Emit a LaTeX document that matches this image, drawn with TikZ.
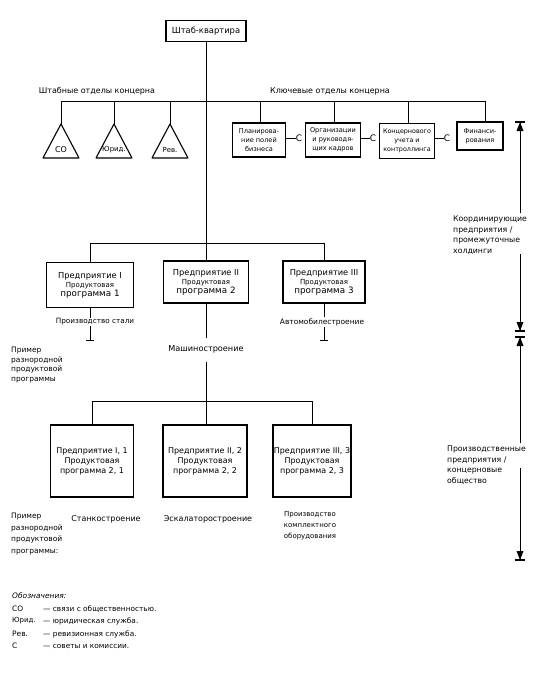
\documentclass[tikz,border=0pt]{standalone}
\usepackage{fontspec}
\setmainfont{DejaVu Sans}
\usetikzlibrary{arrows.meta}
\newcommand{\fs}[2]{\fontsize{#1}{#2}\selectfont}
\tikzset{
  txt/.style={font=\fs{8}{10}, inner sep=0pt, align=center},
  sidetxt/.style={font=\fs{7.5}{10.5}, inner sep=0pt, align=left},
  boxed/.style={draw, line width=1.1bp, inner sep=0pt},
  conn/.style={line width=0.9bp},
  bartip/.style={conn, -{Bar[width=8bp]}},
  tipup/.pic={\fill (0,0) -- (3.5,9) -- (-3.5,9) -- cycle; \draw[line width=1.3bp] (-5,0) -- (5,0);},
  tipdown/.pic={\fill (0,0) -- (3.5,-9) -- (-3.5,-9) -- cycle; \draw[line width=1.3bp] (-5,0) -- (5,0);},
}
\begin{document}
\begin{tikzpicture}[x=1bp,y=-1bp]
\useasboundingbox (0,0) rectangle (533,680);
\fill[white] (0,0) rectangle (533,680);

% headquarters
\node[boxed, txt, font=\fs{8.4}{10}, minimum width=80bp, minimum height=21bp] (hq) at (206,31) {Штаб-квартира};

% staff/key departments bus
\node[txt] (lstaff) at (97,91) {Штабные отделы концерна};
\node[txt] (lkey) at (330,91) {Ключевые отделы концерна};
\coordinate (b1) at (61,101);
\coordinate (b2) at (114,101);
\coordinate (b3) at (170,101);
\coordinate (b4) at (260,101);
\coordinate (b5) at (334,101);
\coordinate (b6) at (408,101);
\coordinate (b7) at (485,101);
\draw[conn] (b1) -- (b7);

% triangles
\coordinate (t1) at (61,124);
\coordinate (t2) at (114,124);
\coordinate (t3) at (170,124);
\foreach \t in {t1,t2,t3}{
  \draw[line width=1.1bp, line join=round] (\t) -- ++(18,34) -- ++(-36,0) -- cycle;
}
\node[txt, font=\fs{8}{10}] (tri1) at (61,150) {СО};
\node[txt, font=\fs{7}{9}] (tri2) at (114,150) {Юрид.};
\node[txt, font=\fs{7}{9}] (tri3) at (170,150) {Рев.};
\draw[conn] (b1) -- (t1);
\draw[conn] (b2) -- (t2);
\draw[conn] (b3) -- (t3);

% key department boxes
\node[boxed, txt, font=\fs{6.6}{9}, minimum width=53bp, minimum height=34bp] (plan) at (259,140) {Планирова-\\ние полей\\бизнеса};
\node[boxed, txt, font=\fs{6.6}{9}, minimum width=55bp, minimum height=34bp] (org) at (333,140) {Организации\\и руководя-\\щих кадров};
\node[boxed, txt, font=\fs{6.4}{9}, minimum width=55bp, minimum height=35bp] (konz) at (407,141) {Концернового\\учета и\\контроллинга};
\node[boxed, txt, font=\fs{6.6}{9}, minimum width=46bp, minimum height=28bp] (fin) at (480,136) {Финанси-\\рования};
\draw[conn] (b4) -- (b4 |- plan.north);
\draw[conn] (b5) -- (b5 |- org.north);
\draw[conn] (b6) -- (b6 |- konz.north);
\draw[conn] (b7) -- (b7 |- fin.north);

% councils
\node[txt, font=\fs{9}{10}] (c1) at (299,138) {С};
\node[txt, font=\fs{9}{10}] (c2) at (373,138) {С};
\node[txt, font=\fs{9}{10}] (c3) at (447,138) {С};
\draw[conn] (plan.east |- c1) -- (c1.west);
\draw[conn] (org.east |- c2) -- (c2.west);
\draw[conn] (konz.east |- c3) -- (c3.west);

% enterprise level
\coordinate (e0) at (206,243);
\coordinate (ea) at (90,243);
\coordinate (ec) at (324,243);
\draw[conn] (hq.south) -- (e0);
\draw[conn] (ea) -- (ec);
\node[boxed, txt, font=\fs{8.3}{10}, minimum width=87bp, minimum height=45bp] (ent1) at (90,285)
  {Предприятие I\\[-1bp]{\fs{7}{8}Продуктовая}\\[-1bp]{\fs{8.8}{10}программа 1}};
\node[boxed, txt, font=\fs{8.3}{10}, minimum width=85bp, minimum height=42bp] (ent2) at (206,282)
  {Предприятие II\\[-1bp]{\fs{7}{8}Продуктовая}\\[-1bp]{\fs{8.8}{10}программа 2}};
\node[boxed, txt, font=\fs{8.3}{10}, minimum width=82bp, minimum height=42bp] (ent3) at (324,282)
  {Предприятие III\\[-1bp]{\fs{7}{8}Продуктовая}\\[-1bp]{\fs{8.8}{10}программа 3}};
\draw[conn] (ea) -- (ent1.north);
\draw[conn] (e0) -- (ent2.north);
\draw[conn] (ec) -- (ent3.north);

% branch labels
\coordinate (x1) at (90,341);
\coordinate (x3) at (324,341);
\coordinate (m1) at (206,338);
\coordinate (m2) at (206,362);
\draw[bartip] (ent1.south) -- (x1);
\draw[bartip] (ent3.south) -- (x3);
\node[txt, font=\fs{7.3}{9}, fill=white, inner sep=1bp] (l1) at (95,322) {Производство стали};
\node[txt, font=\fs{7.5}{9}, fill=white, inner sep=1bp] (l3) at (322,322) {Автомобилестроение};
\node[txt, font=\fs{8.2}{10}] (mash) at (206,349) {Машиностроение};
\draw[conn] (ent2.south) -- (m1);

\node[sidetxt, font=\fs{7.5}{9.5}, anchor=north west] (ex1) at (11,347) {Пример\\разнородной\\продуктовой\\программы};

% lower level
\coordinate (f0) at (206,401);
\coordinate (fa) at (92,401);
\coordinate (fc) at (312,401);
\draw[conn] (m2) -- (f0);
\draw[conn] (fa) -- (fc);
\node[boxed, txt, minimum width=83bp, minimum height=72bp] (p1) at (92,461)
  {Предприятие I, 1\\Продуктовая\\программа 2, 1};
\node[boxed, txt, minimum width=84bp, minimum height=72bp] (p2) at (205,461)
  {Предприятие II, 2\\Продуктовая\\программа 2, 2};
\node[boxed, txt, minimum width=78bp, minimum height=72bp] (p3) at (312,461)
  {Предприятие III, 3\\Продуктовая\\программа 2, 3};
\draw[conn] (fa) -- (p1.north);
\draw[conn] (f0) -- (f0 |- p2.north);
\draw[conn] (fc) -- (p3.north);

\node[sidetxt, font=\fs{7.5}{11.5}, anchor=north west] (ex2) at (11,513) {Пример\\разнородной\\продуктовой\\программы:};
\node[txt] (s1) at (106,519) {Станкостроение};
\node[txt] (s2) at (208,519) {Эскалаторостроение};
\node[txt, font=\fs{7}{11}] (s3) at (310,526) {Производство\\комплектного\\оборудования};

% right-hand scale
\node[sidetxt, font=\fs{7.8}{10.5}, anchor=north west] (coord) at (453,216) {Координирующие\\предприятия /\\промежуточные\\холдинги};
\node[sidetxt, font=\fs{7.8}{10.5}, anchor=north west] (prod) at (447,446) {Производственные\\предприятия /\\концерновые\\общество};
\coordinate (r1) at (520,122);
\coordinate (r2) at (520,213);
\coordinate (r3) at (520,254);
\coordinate (r4) at (520,331);
\coordinate (r5) at (520,337);
\coordinate (r6) at (520,443);
\coordinate (r7) at (520,468);
\coordinate (r8) at (520,560);
\draw[conn] (r2) -- (r1);
\draw[conn] (r3) -- (r4);
\draw[conn] (r6) -- (r5);
\draw[conn] (r7) -- (r8);
\pic at (r1) {tipup};
\pic at (r5) {tipup};
\pic at (r4) {tipdown};
\pic at (r8) {tipdown};

% legend
\node[txt, anchor=west, font=\itshape\fs{7.5}{9}] (leg) at (12,596) {Обозначения:};
\node[txt, anchor=west, font=\fs{7.5}{9}] (k1) at (12,609) {СО};
\node[txt, anchor=west, font=\fs{7}{9}] (k2) at (12,621) {Юрид.};
\node[txt, anchor=west, font=\fs{7.5}{9}] (k3) at (12,634) {Рев.};
\node[txt, anchor=west, font=\fs{7.5}{9}] (k4) at (12,646) {С};
\node[txt, anchor=west, font=\fs{7.4}{9}] (d1) at (43,609) {--- связи с общественностью.};
\node[txt, anchor=west, font=\fs{7.4}{9}] (d2) at (43,621) {--- юридическая служба.};
\node[txt, anchor=west, font=\fs{7.4}{9}] (d3) at (43,634) {--- ревизионная служба.};
\node[txt, anchor=west, font=\fs{7.4}{9}] (d4) at (43,646) {--- советы и комиссии.};
\end{tikzpicture}
\end{document}
